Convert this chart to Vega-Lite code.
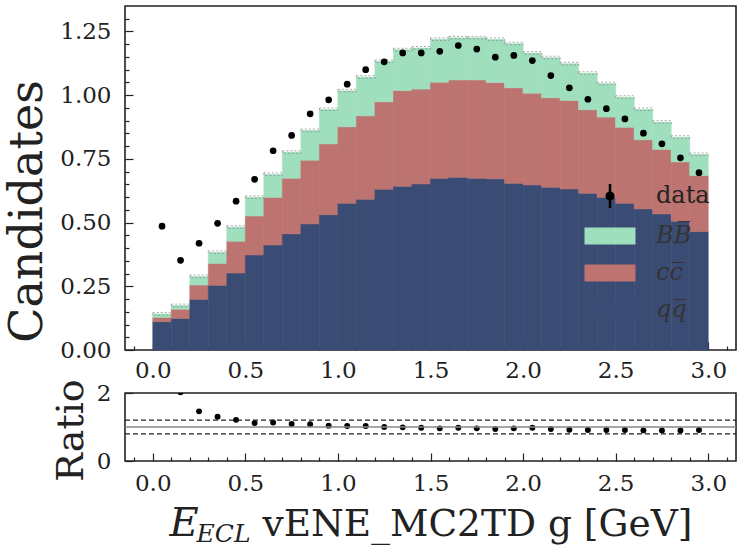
{
  "$schema": "https://vega.github.io/schema/vega-lite/v6.json",
  "padding": {"left": 3, "top": 5, "right": 2, "bottom": 2},
  "background": "white",
  "config": {
    "font": "DejaVu Serif",
    "view": {"stroke": "#222", "strokeWidth": 1.6},
    "axis": {"labelFont": "DejaVu Serif", "labelFontSize": 23, "labelColor": "#222", "titleFont": "DejaVu Serif", "titleFontWeight": "normal", "titleColor": "#222", "grid": false, "domain": false, "tickColor": "#222", "tickWidth": 1.2, "labelOverlap": false, "labelFlush": false},
    "legend": {"labelFont": "DejaVu Serif", "labelFontSize": 24, "labelColor": "#222", "padding": 0}
  },
  "datasets": {
    "stack": [
      {"lo":0.0,"hi":0.1,"comp":"qq","ord":0,"val":0.111},{"lo":0.0,"hi":0.1,"comp":"cc","ord":1,"val":0.017},{"lo":0.0,"hi":0.1,"comp":"BB","ord":2,"val":0.013},
      {"lo":0.1,"hi":0.2,"comp":"qq","ord":0,"val":0.124},{"lo":0.1,"hi":0.2,"comp":"cc","ord":1,"val":0.036},{"lo":0.1,"hi":0.2,"comp":"BB","ord":2,"val":0.014},
      {"lo":0.2,"hi":0.3,"comp":"qq","ord":0,"val":0.199},{"lo":0.2,"hi":0.3,"comp":"cc","ord":1,"val":0.056},{"lo":0.2,"hi":0.3,"comp":"BB","ord":2,"val":0.033},
      {"lo":0.3,"hi":0.4,"comp":"qq","ord":0,"val":0.254},{"lo":0.3,"hi":0.4,"comp":"cc","ord":1,"val":0.086},{"lo":0.3,"hi":0.4,"comp":"BB","ord":2,"val":0.043},
      {"lo":0.4,"hi":0.5,"comp":"qq","ord":0,"val":0.302},{"lo":0.4,"hi":0.5,"comp":"cc","ord":1,"val":0.125},{"lo":0.4,"hi":0.5,"comp":"BB","ord":2,"val":0.055},
      {"lo":0.5,"hi":0.6,"comp":"qq","ord":0,"val":0.373},{"lo":0.5,"hi":0.6,"comp":"cc","ord":1,"val":0.153},{"lo":0.5,"hi":0.6,"comp":"BB","ord":2,"val":0.073},
      {"lo":0.6,"hi":0.7,"comp":"qq","ord":0,"val":0.412},{"lo":0.6,"hi":0.7,"comp":"cc","ord":1,"val":0.187},{"lo":0.6,"hi":0.7,"comp":"BB","ord":2,"val":0.090},
      {"lo":0.7,"hi":0.8,"comp":"qq","ord":0,"val":0.456},{"lo":0.7,"hi":0.8,"comp":"cc","ord":1,"val":0.218},{"lo":0.7,"hi":0.8,"comp":"BB","ord":2,"val":0.102},
      {"lo":0.8,"hi":0.9,"comp":"qq","ord":0,"val":0.495},{"lo":0.8,"hi":0.9,"comp":"cc","ord":1,"val":0.250},{"lo":0.8,"hi":0.9,"comp":"BB","ord":2,"val":0.116},
      {"lo":0.9,"hi":1.0,"comp":"qq","ord":0,"val":0.531},{"lo":0.9,"hi":1.0,"comp":"cc","ord":1,"val":0.278},{"lo":0.9,"hi":1.0,"comp":"BB","ord":2,"val":0.135},
      {"lo":1.0,"hi":1.1,"comp":"qq","ord":0,"val":0.576},{"lo":1.0,"hi":1.1,"comp":"cc","ord":1,"val":0.300},{"lo":1.0,"hi":1.1,"comp":"BB","ord":2,"val":0.141},
      {"lo":1.1,"hi":1.2,"comp":"qq","ord":0,"val":0.592},{"lo":1.1,"hi":1.2,"comp":"cc","ord":1,"val":0.327},{"lo":1.1,"hi":1.2,"comp":"BB","ord":2,"val":0.152},
      {"lo":1.2,"hi":1.3,"comp":"qq","ord":0,"val":0.631},{"lo":1.2,"hi":1.3,"comp":"cc","ord":1,"val":0.343},{"lo":1.2,"hi":1.3,"comp":"BB","ord":2,"val":0.158},
      {"lo":1.3,"hi":1.4,"comp":"qq","ord":0,"val":0.643},{"lo":1.3,"hi":1.4,"comp":"cc","ord":1,"val":0.375},{"lo":1.3,"hi":1.4,"comp":"BB","ord":2,"val":0.160},
      {"lo":1.4,"hi":1.5,"comp":"qq","ord":0,"val":0.652},{"lo":1.4,"hi":1.5,"comp":"cc","ord":1,"val":0.372},{"lo":1.4,"hi":1.5,"comp":"BB","ord":2,"val":0.161},
      {"lo":1.5,"hi":1.6,"comp":"qq","ord":0,"val":0.674},{"lo":1.5,"hi":1.6,"comp":"cc","ord":1,"val":0.377},{"lo":1.5,"hi":1.6,"comp":"BB","ord":2,"val":0.168},
      {"lo":1.6,"hi":1.7,"comp":"qq","ord":0,"val":0.678},{"lo":1.6,"hi":1.7,"comp":"cc","ord":1,"val":0.382},{"lo":1.6,"hi":1.7,"comp":"BB","ord":2,"val":0.165},
      {"lo":1.7,"hi":1.8,"comp":"qq","ord":0,"val":0.674},{"lo":1.7,"hi":1.8,"comp":"cc","ord":1,"val":0.386},{"lo":1.7,"hi":1.8,"comp":"BB","ord":2,"val":0.165},
      {"lo":1.8,"hi":1.9,"comp":"qq","ord":0,"val":0.672},{"lo":1.8,"hi":1.9,"comp":"cc","ord":1,"val":0.378},{"lo":1.8,"hi":1.9,"comp":"BB","ord":2,"val":0.169},
      {"lo":1.9,"hi":2.0,"comp":"qq","ord":0,"val":0.654},{"lo":1.9,"hi":2.0,"comp":"cc","ord":1,"val":0.375},{"lo":1.9,"hi":2.0,"comp":"BB","ord":2,"val":0.173},
      {"lo":2.0,"hi":2.1,"comp":"qq","ord":0,"val":0.648},{"lo":2.0,"hi":2.1,"comp":"cc","ord":1,"val":0.360},{"lo":2.0,"hi":2.1,"comp":"BB","ord":2,"val":0.157},
      {"lo":2.1,"hi":2.2,"comp":"qq","ord":0,"val":0.639},{"lo":2.1,"hi":2.2,"comp":"cc","ord":1,"val":0.351},{"lo":2.1,"hi":2.2,"comp":"BB","ord":2,"val":0.157},
      {"lo":2.2,"hi":2.3,"comp":"qq","ord":0,"val":0.632},{"lo":2.2,"hi":2.3,"comp":"cc","ord":1,"val":0.347},{"lo":2.2,"hi":2.3,"comp":"BB","ord":2,"val":0.144},
      {"lo":2.3,"hi":2.4,"comp":"qq","ord":0,"val":0.615},{"lo":2.3,"hi":2.4,"comp":"cc","ord":1,"val":0.328},{"lo":2.3,"hi":2.4,"comp":"BB","ord":2,"val":0.143},
      {"lo":2.4,"hi":2.5,"comp":"qq","ord":0,"val":0.599},{"lo":2.4,"hi":2.5,"comp":"cc","ord":1,"val":0.315},{"lo":2.4,"hi":2.5,"comp":"BB","ord":2,"val":0.131},
      {"lo":2.5,"hi":2.6,"comp":"qq","ord":0,"val":0.576},{"lo":2.5,"hi":2.6,"comp":"cc","ord":1,"val":0.298},{"lo":2.5,"hi":2.6,"comp":"BB","ord":2,"val":0.118},
      {"lo":2.6,"hi":2.7,"comp":"qq","ord":0,"val":0.554},{"lo":2.6,"hi":2.7,"comp":"cc","ord":1,"val":0.271},{"lo":2.6,"hi":2.7,"comp":"BB","ord":2,"val":0.119},
      {"lo":2.7,"hi":2.8,"comp":"qq","ord":0,"val":0.534},{"lo":2.7,"hi":2.8,"comp":"cc","ord":1,"val":0.253},{"lo":2.7,"hi":2.8,"comp":"BB","ord":2,"val":0.107},
      {"lo":2.8,"hi":2.9,"comp":"qq","ord":0,"val":0.505},{"lo":2.8,"hi":2.9,"comp":"cc","ord":1,"val":0.233},{"lo":2.8,"hi":2.9,"comp":"BB","ord":2,"val":0.097},
      {"lo":2.9,"hi":3.0,"comp":"qq","ord":0,"val":0.465},{"lo":2.9,"hi":3.0,"comp":"cc","ord":1,"val":0.220},{"lo":2.9,"hi":3.0,"comp":"BB","ord":2,"val":0.082}
    ],
    "pts": [
      {"x":0.05,"lo":0.0,"hi":0.1,"data":0.486,"mc_lo":0.137,"mc_hi":0.147,"ratio":3.45},
      {"x":0.15,"lo":0.1,"hi":0.2,"data":0.352,"mc_lo":0.170,"mc_hi":0.180,"ratio":2.02},
      {"x":0.25,"lo":0.2,"hi":0.3,"data":0.419,"mc_lo":0.284,"mc_hi":0.294,"ratio":1.46},
      {"x":0.35,"lo":0.3,"hi":0.4,"data":0.497,"mc_lo":0.379,"mc_hi":0.389,"ratio":1.30},
      {"x":0.45,"lo":0.4,"hi":0.5,"data":0.584,"mc_lo":0.478,"mc_hi":0.488,"ratio":1.21},
      {"x":0.55,"lo":0.5,"hi":0.6,"data":0.670,"mc_lo":0.595,"mc_hi":0.605,"ratio":1.12},
      {"x":0.65,"lo":0.6,"hi":0.7,"data":0.782,"mc_lo":0.685,"mc_hi":0.695,"ratio":1.13},
      {"x":0.75,"lo":0.7,"hi":0.8,"data":0.842,"mc_lo":0.772,"mc_hi":0.782,"ratio":1.09},
      {"x":0.85,"lo":0.8,"hi":0.9,"data":0.927,"mc_lo":0.857,"mc_hi":0.867,"ratio":1.08},
      {"x":0.95,"lo":0.9,"hi":1.0,"data":0.982,"mc_lo":0.940,"mc_hi":0.950,"ratio":1.04},
      {"x":1.05,"lo":1.0,"hi":1.1,"data":1.043,"mc_lo":1.013,"mc_hi":1.023,"ratio":1.03},
      {"x":1.15,"lo":1.1,"hi":1.2,"data":1.100,"mc_lo":1.067,"mc_hi":1.077,"ratio":1.03},
      {"x":1.25,"lo":1.2,"hi":1.3,"data":1.131,"mc_lo":1.128,"mc_hi":1.138,"ratio":1.00},
      {"x":1.35,"lo":1.3,"hi":1.4,"data":1.166,"mc_lo":1.174,"mc_hi":1.184,"ratio":0.99},
      {"x":1.45,"lo":1.4,"hi":1.5,"data":1.166,"mc_lo":1.181,"mc_hi":1.191,"ratio":0.98},
      {"x":1.55,"lo":1.5,"hi":1.6,"data":1.172,"mc_lo":1.215,"mc_hi":1.225,"ratio":0.96},
      {"x":1.65,"lo":1.6,"hi":1.7,"data":1.195,"mc_lo":1.221,"mc_hi":1.231,"ratio":0.98},
      {"x":1.75,"lo":1.7,"hi":1.8,"data":1.181,"mc_lo":1.221,"mc_hi":1.231,"ratio":0.96},
      {"x":1.85,"lo":1.8,"hi":1.9,"data":1.149,"mc_lo":1.215,"mc_hi":1.225,"ratio":0.94},
      {"x":1.95,"lo":1.9,"hi":2.0,"data":1.156,"mc_lo":1.198,"mc_hi":1.208,"ratio":0.96},
      {"x":2.05,"lo":2.0,"hi":2.1,"data":1.136,"mc_lo":1.161,"mc_hi":1.171,"ratio":0.98},
      {"x":2.15,"lo":2.1,"hi":2.2,"data":1.077,"mc_lo":1.143,"mc_hi":1.153,"ratio":0.94},
      {"x":2.25,"lo":2.2,"hi":2.3,"data":1.029,"mc_lo":1.119,"mc_hi":1.129,"ratio":0.92},
      {"x":2.35,"lo":2.3,"hi":2.4,"data":0.984,"mc_lo":1.082,"mc_hi":1.092,"ratio":0.91},
      {"x":2.45,"lo":2.4,"hi":2.5,"data":0.947,"mc_lo":1.041,"mc_hi":1.051,"ratio":0.91},
      {"x":2.55,"lo":2.5,"hi":2.6,"data":0.907,"mc_lo":0.988,"mc_hi":0.998,"ratio":0.91},
      {"x":2.65,"lo":2.6,"hi":2.7,"data":0.851,"mc_lo":0.940,"mc_hi":0.950,"ratio":0.90},
      {"x":2.75,"lo":2.7,"hi":2.8,"data":0.809,"mc_lo":0.890,"mc_hi":0.900,"ratio":0.90},
      {"x":2.85,"lo":2.8,"hi":2.9,"data":0.754,"mc_lo":0.831,"mc_hi":0.841,"ratio":0.90},
      {"x":2.95,"lo":2.9,"hi":3.0,"data":0.696,"mc_lo":0.763,"mc_hi":0.773,"ratio":0.91}
    ]
  },
  "vconcat": [
    {
      "width": 611,
      "height": 344,
      "layer": [
        {
          "data": {"name": "stack"},
          "transform": [{"stack": "val", "groupby": ["lo"], "sort": [{"field": "ord", "order": "ascending"}], "as": ["y0", "y1"]}],
          "mark": {"type": "rect", "strokeWidth": 0.6},
          "encoding": {
            "x": {"field": "lo", "type": "quantitative",
              "scale": {"domain": [-0.15, 3.15], "nice": false, "zero": false},
              "axis": {"title": null, "labelOverlap": false,
                "values": [-0.1,0,0.1,0.2,0.3,0.4,0.5,0.6,0.7,0.8,0.9,1,1.1,1.2,1.3,1.4,1.5,1.6,1.7,1.8,1.9,2,2.1,2.2,2.3,2.4,2.5,2.6,2.7,2.8,2.9,3,3.1],
                "labelExpr": "abs(datum.value*2 - round(datum.value*2)) < 0.001 ? format(datum.value, '.1f') : ''",
                "tickSize": -8,
                "tickDash": {"condition": {"test": "abs(datum.value*2 - round(datum.value*2)) < 0.001", "value": [8, 0]}, "value": [4, 40]},
                "labelPadding": 17}},
            "x2": {"field": "hi"},
            "y": {"field": "y0", "type": "quantitative",
              "scale": {"domain": [0, 1.35], "nice": false, "zero": false},
              "axis": {"title": "Candidates", "titleFontSize": 46, "titleX": -84, "titleY": 205, "titleBaseline": "alphabetic", "titleAlign": "center", "titleAngle": -90, "labelOverlap": false,
                "values": [0,0.05,0.1,0.15,0.2,0.25,0.3,0.35,0.4,0.45,0.5,0.55,0.6,0.65,0.7,0.75,0.8,0.85,0.9,0.95,1,1.05,1.1,1.15,1.2,1.25,1.3],
                "labelExpr": "abs(datum.value*4 - round(datum.value*4)) < 0.001 ? format(datum.value, '.2f') : ''",
                "tickSize": -8,
                "tickDash": {"condition": {"test": "abs(datum.value*4 - round(datum.value*4)) < 0.001", "value": [8, 0]}, "value": [4, 40]},
                "labelPadding": 22}},
            "y2": {"field": "y1"},
            "fill": {"field": "comp", "type": "nominal",
              "scale": {"domain": ["BB", "cc", "qq"], "range": ["#a0dfbe", "#bd7470", "#3b4c74"]},
              "legend": {"title": null, "orient": "none", "legendX": 473, "legendY": 218,
                "symbolSize": 400, "symbolType": "M-2.55,-0.85H2.55V0.85H-2.55Z", "symbolStrokeWidth": 0,
                "labelOffset": 34, "rowPadding": 13, "labelFontStyle": "italic", "labelColor": "#333",
                "labelExpr": "datum.value == 'BB' ? 'BB\u0305' : datum.value == 'cc' ? 'cc\u0305' : 'qq\u0305'"}},
            "stroke": {"field": "comp", "type": "nominal",
              "scale": {"domain": ["BB", "cc", "qq"], "range": ["#a0dfbe", "#bd7470", "#3b4c74"]},
              "legend": null}
          }
        },
        {
          "data": {"name": "pts"},
          "mark": {"type": "rect", "filled": false, "stroke": "#888", "strokeWidth": 0.7, "strokeDash": [2, 2]},
          "encoding": {
            "x": {"field": "lo", "type": "quantitative",
              "axis": {"title": null, "labelOverlap": false,
                "values": [-0.1,0,0.1,0.2,0.3,0.4,0.5,0.6,0.7,0.8,0.9,1,1.1,1.2,1.3,1.4,1.5,1.6,1.7,1.8,1.9,2,2.1,2.2,2.3,2.4,2.5,2.6,2.7,2.8,2.9,3,3.1],
                "labelExpr": "abs(datum.value*2 - round(datum.value*2)) < 0.001 ? format(datum.value, '.1f') : ''",
                "tickSize": -8,
                "tickDash": {"condition": {"test": "abs(datum.value*2 - round(datum.value*2)) < 0.001", "value": [8, 0]}, "value": [4, 40]},
                "labelPadding": 17}},
            "x2": {"field": "hi"},
            "y": {"field": "mc_lo", "type": "quantitative",
              "axis": {"title": "Candidates", "titleFontSize": 46, "titleX": -84, "titleY": 205, "titleBaseline": "alphabetic", "titleAlign": "center", "titleAngle": -90, "labelOverlap": false,
                "values": [0,0.05,0.1,0.15,0.2,0.25,0.3,0.35,0.4,0.45,0.5,0.55,0.6,0.65,0.7,0.75,0.8,0.85,0.9,0.95,1,1.05,1.1,1.15,1.2,1.25,1.3],
                "labelExpr": "abs(datum.value*4 - round(datum.value*4)) < 0.001 ? format(datum.value, '.2f') : ''",
                "tickSize": -8,
                "tickDash": {"condition": {"test": "abs(datum.value*4 - round(datum.value*4)) < 0.001", "value": [8, 0]}, "value": [4, 40]},
                "labelPadding": 22}},
            "y2": {"field": "mc_hi"}
          }
        },
        {
          "data": {"name": "pts"},
          "mark": {"type": "point", "filled": true, "fill": "black", "size": 45, "opacity": 1, "strokeWidth": 0},
          "encoding": {
            "x": {"field": "x", "type": "quantitative",
              "axis": {"title": null, "labelOverlap": false,
                "values": [-0.1,0,0.1,0.2,0.3,0.4,0.5,0.6,0.7,0.8,0.9,1,1.1,1.2,1.3,1.4,1.5,1.6,1.7,1.8,1.9,2,2.1,2.2,2.3,2.4,2.5,2.6,2.7,2.8,2.9,3,3.1],
                "labelExpr": "abs(datum.value*2 - round(datum.value*2)) < 0.001 ? format(datum.value, '.1f') : ''",
                "tickSize": -8,
                "tickDash": {"condition": {"test": "abs(datum.value*2 - round(datum.value*2)) < 0.001", "value": [8, 0]}, "value": [4, 40]},
                "labelPadding": 17}},
            "y": {"field": "data", "type": "quantitative",
              "axis": {"title": "Candidates", "titleFontSize": 46, "titleX": -84, "titleY": 205, "titleBaseline": "alphabetic", "titleAlign": "center", "titleAngle": -90, "labelOverlap": false,
                "values": [0,0.05,0.1,0.15,0.2,0.25,0.3,0.35,0.4,0.45,0.5,0.55,0.6,0.65,0.7,0.75,0.8,0.85,0.9,0.95,1,1.05,1.1,1.15,1.2,1.25,1.3],
                "labelExpr": "abs(datum.value*4 - round(datum.value*4)) < 0.001 ? format(datum.value, '.2f') : ''",
                "tickSize": -8,
                "tickDash": {"condition": {"test": "abs(datum.value*4 - round(datum.value*4)) < 0.001", "value": [8, 0]}, "value": [4, 40]},
                "labelPadding": 22}},
            "stroke": {"datum": "data", "type": "nominal",
              "scale": {"domain": ["data"], "range": ["black"]},
              "legend": {"title": null, "orient": "none", "legendX": 473, "legendY": 178,
                "symbolSize": 400, "labelOffset": 34, "labelColor": "#222",
                "symbolType": "M0,-1.2L0,1.2M0.33,0A0.33,0.33 0 1,1 -0.33,0A0.33,0.33 0 1,1 0.33,0Z",
                "symbolFillColor": "black", "symbolStrokeColor": "black", "symbolStrokeWidth": 2.5,
                "encoding": {"symbols": {"fill": {"value": "black"}, "stroke": {"value": "black"}, "strokeWidth": {"value": 2.5}, "opacity": {"value": 1}}}}}
          }
        }
      ],
      "resolve": {"scale": {"stroke": "independent"}, "legend": {"stroke": "independent"}}
    },
    {
      "width": 611,
      "height": 68,
      "layer": [
        {
          "data": {"name": "pts"},
          "mark": {"type": "point", "filled": true, "color": "black", "size": 35, "opacity": 1, "clip": true},
          "encoding": {
            "x": {"field": "x", "type": "quantitative",
              "scale": {"domain": [-0.15, 3.15], "nice": false, "zero": false},
              "axis": {"orient": "bottom", "title": "vENE_MC2TD g [GeV]", "titleFontSize": 37.5, "titleX": 137, "titleY": 74, "titleAlign": "left", "titleBaseline": "alphabetic", "titleAnchor": "start", "labelOverlap": false,
                "values": [-0.1,0,0.1,0.2,0.3,0.4,0.5,0.6,0.7,0.8,0.9,1,1.1,1.2,1.3,1.4,1.5,1.6,1.7,1.8,1.9,2,2.1,2.2,2.3,2.4,2.5,2.6,2.7,2.8,2.9,3,3.1],
                "labelExpr": "abs(datum.value*2 - round(datum.value*2)) < 0.001 ? format(datum.value, '.1f') : ''",
                "tickSize": -8,
                "tickDash": {"condition": {"test": "abs(datum.value*2 - round(datum.value*2)) < 0.001", "value": [8, 0]}, "value": [4, 40]},
                "labelPadding": 19}},
            "y": {"field": "ratio", "type": "quantitative",
              "scale": {"domain": [0, 2], "nice": false, "zero": false},
              "axis": {"title": "Ratio", "titleFontSize": 38, "titleX": -43, "titleY": 37, "titleBaseline": "alphabetic", "titleAlign": "center", "titleAngle": -90, "labelOverlap": false,
                "values": [0, 0.5, 1, 1.5, 2],
                "labelExpr": "datum.value == 0 || datum.value == 2 ? format(datum.value, 'd') : ''",
                "tickSize": -8,
                "tickDash": {"condition": {"test": "datum.value == 0 || datum.value == 2", "value": [8, 0]}, "value": [4, 40]},
                "labelPadding": 22}}
          }
        },
        {
          "data": {"values": [{"a": 1}]},
          "mark": {"type": "rule", "color": "#888", "strokeWidth": 1.4},
          "encoding": {
            "x": {"datum": -0.15, "type": "quantitative",
              "axis": {"orient": "bottom", "title": "E", "titleFontSize": 40, "titleFontStyle": "italic", "titleX": 44, "titleY": 74, "titleAlign": "left", "titleBaseline": "alphabetic", "titleAnchor": "start", "labels": false, "ticks": false, "domain": false}},
            "x2": {"datum": 3.15},
            "y": {"datum": 1, "type": "quantitative"}
          }
        },
        {
          "data": {"values": [{"a": 1}]},
          "mark": {"type": "rule", "color": "#222", "strokeWidth": 1.2, "strokeDash": [5, 3]},
          "encoding": {
            "x": {"datum": -0.15, "type": "quantitative",
              "axis": {"orient": "bottom", "title": "ECL", "titleFontSize": 25, "titleFontStyle": "italic", "titleX": 71, "titleY": 80, "titleAlign": "left", "titleBaseline": "alphabetic", "titleAnchor": "start", "labels": false, "ticks": false, "domain": false}},
            "x2": {"datum": 3.15},
            "y": {"datum": 1.2, "type": "quantitative"}
          }
        },
        {
          "data": {"values": [{"a": 1}]},
          "mark": {"type": "rule", "color": "#222", "strokeWidth": 1.2, "strokeDash": [5, 3]},
          "encoding": {
            "x": {"datum": -0.15, "type": "quantitative", "axis": null},
            "x2": {"datum": 3.15},
            "y": {"datum": 0.8, "type": "quantitative"}
          }
        }
      ],
      "resolve": {"axis": {"x": "independent"}}
    }
  ],
  "spacing": 43,
  "bounds": "flush"
}
